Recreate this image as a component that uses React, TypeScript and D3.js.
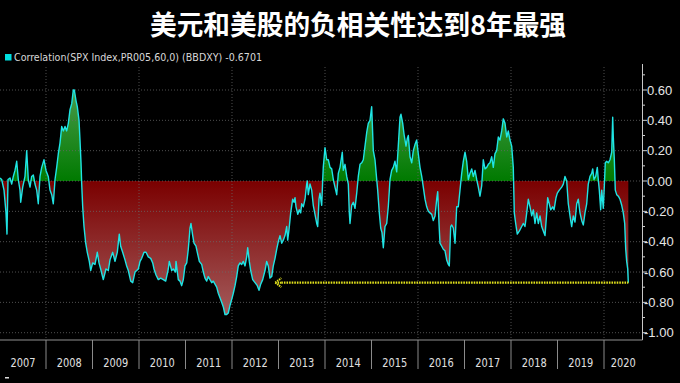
import React from "react";
import * as d3 from "d3";

const title = "美元和美股的负相关性达到8年最强";
const legendLabel = "Correlation(SPX Index,PR005,60,0) (BBDXY) -0.6701";
const lastValue = -0.6701;
const markerStart = 2013.06;
const yTicks = [0.6, 0.4, 0.2, 0, -0.2, -0.4, -0.6, -0.8, -1.0];
const yMinorTicks = [0.7, 0.5, 0.3, 0.1, -0.1, -0.3, -0.5, -0.7, -0.9];
const years = [2007, 2008, 2009, 2010, 2011, 2012, 2013, 2014, 2015, 2016, 2017, 2018, 2019, 2020];
const gridYears = [2008, 2010, 2012, 2014, 2016, 2018, 2020];

const d2007 = [[2007.011,0.02],[2007.047,0.01],[2007.097,-0.06],[2007.140,-0.21],[2007.161,-0.35],[2007.183,0.01],[2007.226,0.02],[2007.262,-0.02],[2007.297,0.03],[2007.333,0.07],[2007.370,0.13],[2007.404,0.01],[2007.441,-0.06],[2007.456,-0.14],[2007.499,-0.04],[2007.548,0.03],[2007.585,0.20],[2007.619,0.01],[2007.656,-0.04],[2007.692,0.03],[2007.727,0.04],[2007.763,-0.02],[2007.800,-0.06],[2007.834,-0.15],[2007.871,0.03],[2007.908,0.09],[2007.957,0.14]];
const d2008 = [[2008.000,0.07],[2008.049,0.03],[2008.086,-0.06],[2008.123,-0.09],[2008.157,-0.15],[2008.194,0.01],[2008.230,0.09],[2008.265,0.18],[2008.301,0.25],[2008.338,0.36],[2008.372,0.33],[2008.409,0.36],[2008.445,0.33],[2008.480,0.38],[2008.516,0.47],[2008.553,0.51],[2008.587,0.60],[2008.609,0.60],[2008.645,0.53],[2008.673,0.49],[2008.710,0.40],[2008.731,0.27],[2008.753,0.12],[2008.768,-0.02],[2008.789,-0.17],[2008.817,-0.30],[2008.854,-0.41],[2008.888,-0.47],[2008.931,-0.53],[2008.961,-0.59]];
const d2009 = [[2009.004,-0.54],[2009.054,-0.55],[2009.103,-0.47],[2009.140,-0.54],[2009.176,-0.58],[2009.232,-0.65],[2009.290,-0.58],[2009.340,-0.59],[2009.376,-0.52],[2009.434,-0.47],[2009.484,-0.53],[2009.533,-0.47],[2009.576,-0.35],[2009.606,-0.43],[2009.649,-0.47],[2009.699,-0.52],[2009.735,-0.56],[2009.770,-0.59],[2009.822,-0.66],[2009.865,-0.67],[2009.914,-0.60],[2009.951,-0.59],[2009.985,-0.58]];
const d2010 = [[2010.022,-0.53],[2010.058,-0.51],[2010.108,-0.47],[2010.151,-0.47],[2010.200,-0.50],[2010.252,-0.51],[2010.295,-0.54],[2010.323,-0.58],[2010.366,-0.62],[2010.415,-0.65],[2010.467,-0.64],[2010.523,-0.65],[2010.574,-0.66],[2010.630,-0.58],[2010.652,-0.53],[2010.703,-0.59],[2010.738,-0.58],[2010.785,-0.60],[2010.796,-0.53],[2010.845,-0.65],[2010.882,-0.66],[2010.918,-0.69],[2010.953,-0.65],[2010.989,-0.56]];
const d2011 = [[2011.026,-0.54],[2011.060,-0.45],[2011.097,-0.31],[2011.118,-0.28],[2011.155,-0.36],[2011.183,-0.41],[2011.226,-0.43],[2011.254,-0.47],[2011.297,-0.53],[2011.348,-0.55],[2011.383,-0.60],[2011.419,-0.64],[2011.456,-0.66],[2011.490,-0.63],[2011.527,-0.65],[2011.563,-0.67],[2011.598,-0.66],[2011.634,-0.68],[2011.671,-0.70],[2011.705,-0.74],[2011.742,-0.77],[2011.778,-0.80],[2011.813,-0.83],[2011.849,-0.88],[2011.886,-0.88],[2011.920,-0.87],[2011.957,-0.82],[2011.994,-0.78]];
const d2012 = [[2012.028,-0.74],[2012.065,-0.69],[2012.101,-0.63],[2012.135,-0.56],[2012.172,-0.54],[2012.209,-0.55],[2012.243,-0.53],[2012.280,-0.56],[2012.316,-0.50],[2012.338,-0.44],[2012.372,-0.53],[2012.402,-0.59],[2012.445,-0.65],[2012.495,-0.67],[2012.544,-0.69],[2012.581,-0.72],[2012.617,-0.68],[2012.660,-0.65],[2012.710,-0.59],[2012.746,-0.53],[2012.780,-0.56],[2012.817,-0.64],[2012.854,-0.63],[2012.888,-0.56],[2012.925,-0.51],[2012.961,-0.45],[2012.996,-0.40]];
const d2013 = [[2013.032,-0.36],[2013.069,-0.41],[2013.103,-0.39],[2013.140,-0.36],[2013.176,-0.30],[2013.198,-0.39],[2013.226,-0.32],[2013.262,-0.21],[2013.305,-0.12],[2013.333,-0.14],[2013.355,-0.11],[2013.376,-0.17],[2013.415,-0.22],[2013.447,-0.19],[2013.477,-0.21],[2013.499,-0.15],[2013.533,-0.17],[2013.570,-0.12],[2013.606,-0.02],[2013.619,0.00],[2013.641,-0.09],[2013.677,-0.02],[2013.714,-0.06],[2013.748,-0.16],[2013.785,-0.22],[2013.822,-0.28],[2013.843,-0.30],[2013.871,-0.12],[2013.892,-0.08],[2013.929,-0.16],[2013.951,0.01],[2013.963,0.09]];
const d2014 = [[2014.000,0.22],[2014.037,0.14],[2014.071,0.14],[2014.108,0.09],[2014.144,0.08],[2014.179,0.01],[2014.215,-0.04],[2014.252,-0.09],[2014.286,0.05],[2014.323,0.09],[2014.372,0.19],[2014.394,0.07],[2014.430,0.11],[2014.467,0.03],[2014.501,-0.02],[2014.523,-0.21],[2014.538,-0.28],[2014.574,-0.16],[2014.609,-0.14],[2014.645,-0.18],[2014.682,-0.08],[2014.716,0.03],[2014.753,0.11],[2014.789,0.12],[2014.824,0.14],[2014.860,0.23],[2014.897,0.32],[2014.931,0.38],[2014.968,0.40]];
const d2015 = [[2015.004,0.49],[2015.039,0.20],[2015.075,0.14],[2015.112,0.01],[2015.133,-0.06],[2015.168,-0.21],[2015.198,-0.31],[2015.226,-0.34],[2015.254,-0.44],[2015.290,-0.30],[2015.327,-0.28],[2015.361,-0.17],[2015.398,0.01],[2015.434,0.07],[2015.469,0.09],[2015.505,0.13],[2015.542,0.06],[2015.576,0.23],[2015.613,0.42],[2015.634,0.44],[2015.671,0.38],[2015.699,0.31],[2015.742,0.23],[2015.770,0.28],[2015.792,0.30],[2015.828,0.16],[2015.865,0.12],[2015.899,0.20],[2015.935,0.24],[2015.972,0.27]];
const d2016 = [[2016.006,0.18],[2016.043,0.09],[2016.080,0.03],[2016.114,-0.04],[2016.151,-0.12],[2016.187,-0.17],[2016.222,-0.20],[2016.258,-0.21],[2016.295,-0.22],[2016.329,-0.26],[2016.366,-0.23],[2016.402,-0.12],[2016.424,-0.07],[2016.452,-0.28],[2016.473,-0.41],[2016.510,-0.43],[2016.544,-0.45],[2016.581,-0.46],[2016.617,-0.52],[2016.652,-0.55],[2016.673,-0.56],[2016.703,-0.30],[2016.725,-0.29],[2016.759,-0.31],[2016.796,-0.41],[2016.832,-0.17],[2016.867,-0.17],[2016.903,-0.06],[2016.940,0.05],[2016.974,0.13]];
const d2017 = [[2017.011,0.19],[2017.047,0.13],[2017.082,0.01],[2017.118,0.05],[2017.155,0.08],[2017.189,0.03],[2017.226,0.07],[2017.262,0.01],[2017.297,-0.04],[2017.333,-0.10],[2017.370,-0.03],[2017.404,0.14],[2017.441,0.08],[2017.477,0.09],[2017.512,0.11],[2017.548,0.12],[2017.585,0.16],[2017.619,0.09],[2017.656,0.18],[2017.692,0.20],[2017.727,0.29],[2017.763,0.27],[2017.800,0.33],[2017.834,0.41],[2017.871,0.38],[2017.908,0.29],[2017.942,0.33],[2017.978,0.27]];
const d2018 = [[2018.015,0.23],[2018.049,0.09],[2018.071,-0.21],[2018.101,-0.28],[2018.135,-0.35],[2018.178,-0.33],[2018.230,-0.30],[2018.264,-0.28],[2018.301,-0.30],[2018.338,-0.21],[2018.372,-0.12],[2018.409,-0.17],[2018.445,-0.23],[2018.480,-0.19],[2018.516,-0.28],[2018.553,-0.21],[2018.587,-0.28],[2018.624,-0.23],[2018.660,-0.30],[2018.695,-0.33],[2018.731,-0.36],[2018.768,-0.21],[2018.789,-0.11],[2018.823,-0.15],[2018.854,-0.19],[2018.897,-0.17],[2018.925,-0.19],[2018.968,-0.11],[2018.996,-0.08]];
const d2019 = [[2019.039,-0.06],[2019.090,-0.04],[2019.125,-0.02],[2019.161,0.03],[2019.198,0.00],[2019.232,-0.15],[2019.269,-0.23],[2019.305,-0.30],[2019.340,-0.23],[2019.376,-0.27],[2019.413,-0.15],[2019.447,-0.12],[2019.484,-0.21],[2019.520,-0.26],[2019.555,-0.29],[2019.591,-0.21],[2019.628,-0.15],[2019.662,-0.02],[2019.699,0.03],[2019.735,0.05],[2019.757,0.08],[2019.785,0.01],[2019.822,0.03],[2019.856,0.09],[2019.877,0.01],[2019.899,-0.06],[2019.929,-0.19],[2019.951,-0.06],[2019.985,-0.18]];
const d2020 = [[2020.006,-0.04],[2020.028,0.12],[2020.058,0.13],[2020.092,0.12],[2020.129,0.14],[2020.166,0.19],[2020.187,0.42],[2020.200,0.29],[2020.222,0.14],[2020.243,-0.06],[2020.273,-0.09],[2020.308,-0.10],[2020.344,-0.12],[2020.381,-0.16],[2020.415,-0.21],[2020.445,-0.28],[2020.467,-0.45],[2020.488,-0.53],[2020.510,-0.58],[2020.523,-0.6701]];

type Pt = { t: number; v: number };

const W = 680;
const H = 383;
const plotLeft = 0;
const plotRight = 642.5;
const plotTop = 67;
const plotBottom = 340;

export default function App() {
  const series: Pt[] = [
    ...d2007, ...d2008, ...d2009, ...d2010, ...d2011, ...d2012, ...d2013,
    ...d2014, ...d2015, ...d2016, ...d2017, ...d2018, ...d2019, ...d2020,
  ].map(([t, v]) => ({ t, v }));

  const x = d3.scaleLinear().domain([2007, 2020]).range([-0.5, 604]);
  const y = d3.scaleLinear().domain([-1, 0.6]).range([332.7, 90]);
  const y0 = y(0);

  const area = d3.area<Pt>().x((d) => x(d.t)).y0(y0).y1((d) => y(d.v));
  const line = d3.line<Pt>().x((d) => x(d.t)).y((d) => y(d.v));
  const last = series[series.length - 1];
  const yLast = y(lastValue);
  const xm = x(markerStart);

  const numFont = "'DejaVu Sans Condensed','DejaVu Sans',sans-serif";

  return (
    <div style={{ width: W, height: H, background: "#000" }}>
      <style>{`body{margin:0;background:#000}`}</style>
      <svg width={W} height={H} style={{ display: "block", background: "#000" }}>
        <defs>
          <linearGradient id="gPos" gradientUnits="userSpaceOnUse" x1={0} y1={y0} x2={0} y2={y(0.6)}>
            <stop offset="0" stopColor="#007a00" />
            <stop offset="1" stopColor="#4a9a4a" />
          </linearGradient>
          <linearGradient id="gNeg" gradientUnits="userSpaceOnUse" x1={0} y1={y0} x2={0} y2={y(-0.9)}>
            <stop offset="0" stopColor="#7a0000" />
            <stop offset="1" stopColor="#a45c5c" />
          </linearGradient>
          <clipPath id="cPos">
            <rect x={plotLeft} y={plotTop} width={plotRight - plotLeft} height={y0 - plotTop} />
          </clipPath>
          <clipPath id="cNeg">
            <rect x={plotLeft} y={y0} width={plotRight - plotLeft} height={plotBottom - y0} />
          </clipPath>
        </defs>

        <text x={358} y={35} textAnchor="middle" fill="#fff" fontSize={27} fontWeight={700}
          fontFamily="'Noto Sans CJK SC',sans-serif" textLength={416} lengthAdjust="spacingAndGlyphs">
          {title}
        </text>

        <rect x={5} y={54} width={6.5} height={6.5} fill="#00e0e0" />
        <text x={14} y={61} fill="#d8d8d8" fontSize={11} fontFamily={numFont}
          textLength={248} lengthAdjust="spacingAndGlyphs">
          {legendLabel}
        </text>

        <path d={area(series) || ""} fill="url(#gPos)" clipPath="url(#cPos)" />
        <path d={area(series) || ""} fill="url(#gNeg)" clipPath="url(#cNeg)" />

        {yTicks.map((t) => (
          <line key={"gy" + t} x1={plotLeft} x2={plotRight} y1={y(t)} y2={y(t)}
            stroke="#6a6a6a" strokeOpacity={0.75} strokeWidth={1} strokeDasharray="1 2" />
        ))}
        {gridYears.map((yr) => (
          <line key={"gx" + yr} x1={x(yr)} x2={x(yr)} y1={plotTop} y2={plotBottom}
            stroke="#6a6a6a" strokeOpacity={0.75} strokeWidth={1} strokeDasharray="1 2" />
        ))}

        <path d={line(series) || ""} fill="none" stroke="#1fe4e4" strokeWidth={1.4} strokeLinejoin="round" />

        <line x1={xm} x2={x(last.t)} y1={yLast} y2={yLast} stroke="#e2e21c" strokeWidth={2.4} strokeDasharray="1.6 1" />
        <path d={`M${xm - 6},${yLast} L${xm},${yLast - 4.5} M${xm - 6},${yLast} L${xm},${yLast + 4.5} M${xm - 6},${yLast} L${xm},${yLast}`}
          fill="none" stroke="#e2e21c" strokeWidth={2} strokeDasharray="1.5 0.8" />

        <line x1={plotRight} x2={plotRight} y1={64} y2={plotBottom} stroke="#c8c8c8" strokeWidth={1} />
        {yTicks.map((t) => (
          <g key={"yt" + t}>
            <line x1={plotRight} x2={plotRight + 4.5} y1={y(t)} y2={y(t)} stroke="#d0d0d0" strokeWidth={1} />
            <text x={t < 0 ? 644 : 647} y={y(t)} dy="0.36em" fill="#e6e6e6" fontSize={13} fontFamily="'Liberation Sans',Arial,sans-serif">
              {t.toFixed(2)}
            </text>
          </g>
        ))}
        {yMinorTicks.map((t) => (
          <line key={"ym" + t} x1={plotRight} x2={plotRight + 2.5} y1={y(t)} y2={y(t)} stroke="#d0d0d0" strokeWidth={1} />
        ))}

        <line x1={plotLeft} x2={plotRight} y1={plotBottom} y2={plotBottom} stroke="#909090" strokeWidth={1} />
        {years.slice(1).map((yr) => (
          <line key={"sep" + yr} x1={x(yr)} x2={x(yr)} y1={plotBottom} y2={369} stroke="#8a8a8a" strokeWidth={1} />
        ))}
        {years.map((yr) => {
          const a = Math.max(x(yr), plotLeft);
          const b = Math.min(x(yr + 1), plotRight);
          return (
            <text key={"yl" + yr} x={(a + b) / 2} y={366.5} textAnchor="middle" fill="#e0e0e0"
              fontSize={12.5} fontFamily={numFont} textLength={25} lengthAdjust="spacingAndGlyphs">
              {String(yr)}
            </text>
          );
        })}
        <rect x={5} y={377} width={4} height={1.5} fill="#dddddd" />
      </svg>
    </div>
  );
}
